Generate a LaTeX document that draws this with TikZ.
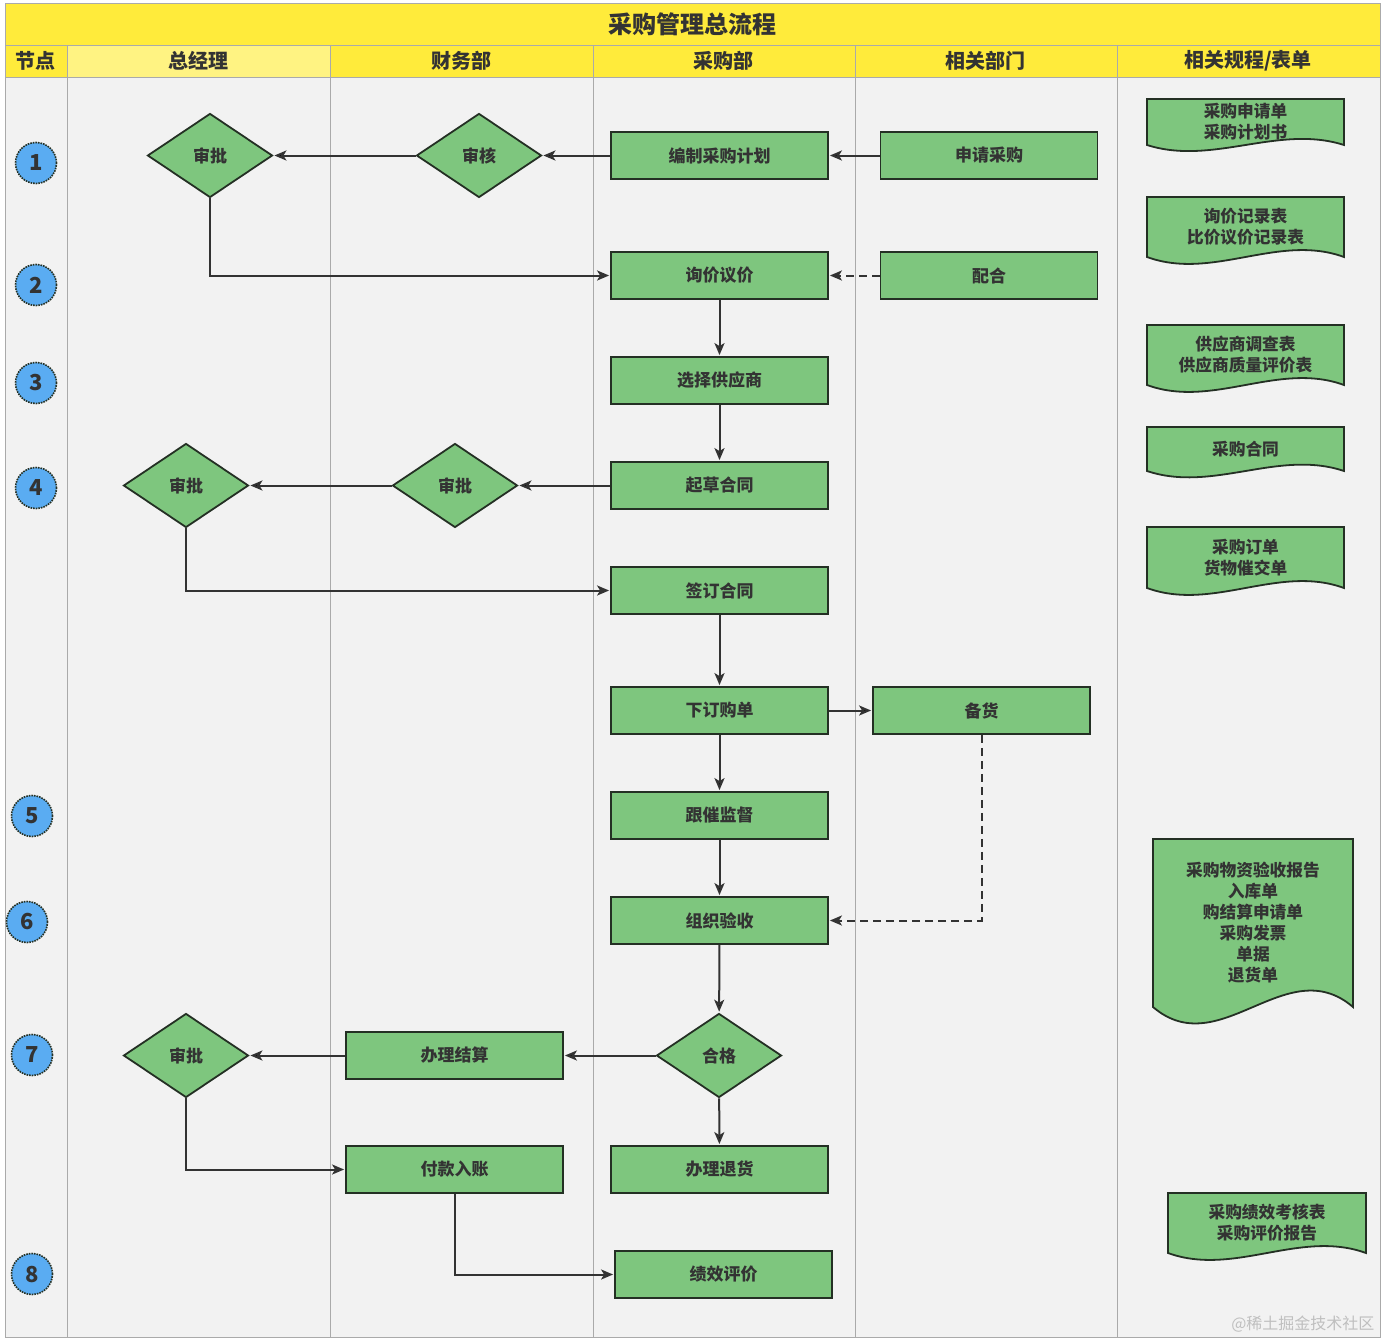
\documentclass[tikz,border=0pt]{standalone}
\usepackage{fontspec}
\setmainfont{Noto Sans CJK SC}
\usetikzlibrary{positioning,arrows,arrows.meta,shapes.geometric}

\definecolor{boxgreen}{RGB}{126,198,126}
\definecolor{boxline}{RGB}{36,48,36}
\definecolor{laneyellow}{RGB}{255,235,59}
\definecolor{lanelight}{RGB}{255,243,130}
\definecolor{lanegray}{RGB}{242,242,242}
\definecolor{laneline}{RGB}{170,170,170}
\definecolor{stepblue}{RGB}{90,172,242}
\definecolor{inkgray}{RGB}{51,51,51}

% paper-like form with a wavy lower edge
\newcommand{\formdoc}[7]{%
  \draw[formshape] (#2,#3) -- (#4,#3) -- (#4,#5)
    .. controls ({#4-(#4-#2)/3},{#5-#6}) and ({#2+(#4-#2)/3},{#5+#6}) .. (#2,#5) -- cycle;
  \node[formtext] (#1) at ({(#2+#4)/2},{(#3+#5)/2}) {#7};}

\begin{document}
\begin{tikzpicture}[x=1pt,y=-1pt,>={Stealth[length=12pt,width=10pt,inset=3pt]},
    flow/.style={->,draw=inkgray,line width=2pt,shorten >=1pt},
    proc/.style={rectangle,draw=boxline,fill=boxgreen,line width=1.8pt,minimum width=217pt,minimum height=47pt,
      text=inkgray,font=\fontsize{17}{19}\selectfont\bfseries},
    check/.style={diamond,draw=boxline,fill=boxgreen,line width=1.8pt,minimum width=125pt,minimum height=84pt,
      inner sep=0pt,text=inkgray,font=\fontsize{17}{19}\selectfont\bfseries},
    stepno/.style={circle,draw=boxline,fill=stepblue,densely dotted,line width=1.6pt,minimum size=41pt,
      inner sep=0pt,text=inkgray,font=\fontsize{22}{24}\selectfont\bfseries},
    lanehead/.style={text=inkgray,font=\fontsize{20}{22}\selectfont\bfseries},
    formshape/.style={draw=boxline,fill=boxgreen,line width=1.8pt},
    formtext/.style={align=center,text=inkgray,font=\fontsize{16.7}{21}\selectfont\bfseries}]

\useasboundingbox (0,0) rectangle (1384,1341);
\fill[white] (0,0) rectangle (1384,1341);

% swimlane frame
\fill[lanegray] (5,77) rectangle (1380,1337);
\fill[laneyellow] (5,3) rectangle (1380,77);
\fill[lanelight] (67,45) rectangle (330,77);
\draw[laneline,line width=1pt] (5,3) rectangle (1380,1337);
\draw[laneline,line width=1pt] (5,45) -- (1380,45);
\draw[laneline,line width=1pt] (5,77) -- (1380,77);
\foreach \lx in {67,330,593,855,1117}
  \draw[laneline,line width=1pt] (\lx,45) -- (\lx,1337);

\node[text=inkgray,font=\fontsize{24}{26}\selectfont\bfseries] (title) at (692,24) {采购管理总流程};
\node[lanehead] (hnode) at (36,61) {节点};
\node[lanehead] (hgm)   at (198,61) {总经理};
\node[lanehead] (hfin)  at (461,61) {财务部};
\node[lanehead] (hbuy)  at (723,61) {采购部};
\node[lanehead] (hrel)  at (985,61) {相关部门};
\node[lanehead] (hform) at (1248,61) {相关规程/表单};

% step numbers
\foreach \n/\sx/\sy in {1/36/163,2/36/285,3/36/383,4/36/488,5/32/816,6/27/922,7/32/1055,8/32/1274}
  \node[stepno] (step\n) at (\sx,\sy) {\n};

% process nodes
\node[proc]  (plan)    at (719.5,155.5) {编制采购计划};
\node[proc]  (apply)   at (989,155.5)   {申请采购};
\node[check] (audit)   at (479,155.5)   {审核};
\node[check] (okplan)  at (210,155.5)   {审批};
\node[proc]  (quote)   at (719.5,275.5) {询价议价};
\node[proc]  (assist)  at (989,275.5)   {配合};
\node[proc]  (choose)  at (719.5,380.5) {选择供应商};
\node[proc]  (draft)   at (719.5,485.5) {起草合同};
\node[check] (finok)   at (455,485.5)   {审批};
\node[check] (gmok)    at (186,485.5)   {审批};
\node[proc]  (sign)    at (719.5,590.5) {签订合同};
\node[proc]  (order)   at (719.5,710.5) {下订购单};
\node[proc]  (stock)   at (981.5,710.5) {备货};
\node[proc]  (urge)    at (719.5,815.5) {跟催监督};
\node[proc]  (accept)  at (719.5,920.5) {组织验收};
\node[check] (pass)    at (719,1055.5)  {合格};
\node[proc]  (settle)  at (454.5,1055.5) {办理结算};
\node[check] (payok)   at (186,1055.5)  {审批};
\node[proc]  (pay)     at (454.5,1169.5) {付款入账};
\node[proc]  (goback)  at (719.5,1169.5) {办理退货};
\node[proc]  (rate)    at (723.5,1274.5) {绩效评价};

\path[flow]
(apply) edge (plan)
(plan) edge (audit)
(audit) edge (okplan)
(quote) edge (choose)
(choose) edge (draft)
(draft) edge (finok)
(finok) edge (gmok)
(sign) edge (order)
(order) edge (stock)
(order) edge (urge)
(urge) edge (accept)
(accept) edge (pass)
(pass) edge (settle)
(settle) edge (payok)
(pass) edge (goback);
\draw[flow] (okplan.south) |- (quote.west);
\draw[flow,dash pattern=on 8pt off 5pt] (assist) -- (quote);
\draw[flow] (gmok.south) |- (sign.west);
\draw[flow,dash pattern=on 8pt off 5pt] (stock.south) |- (accept.east);
\draw[flow] (payok.south) |- (pay.west);
\draw[flow] (pay.south) |- (rate.west);

% forms
\formdoc{forma}{1147}{99}{1344}{145}{21}{采购申请单\\采购计划书}
\formdoc{formb}{1147}{197}{1344}{257}{24}{询价记录表\\比价议价记录表}
\formdoc{formc}{1147}{325}{1344}{385}{24}{供应商调查表\\供应商质量评价表}
\formdoc{formd}{1147}{427}{1344}{471}{22}{采购合同}
\formdoc{forme}{1147}{527}{1344}{588}{24}{采购订单\\货物催交单}
\formdoc{formf}{1153}{839}{1353}{1007}{57}{采购物资验收报告\\入库单\\购结算申请单\\采购发票\\单据\\退货单}
\formdoc{formg}{1168}{1193}{1366}{1253}{24}{采购绩效考核表\\采购评价报告}

\node[text=black!25,font=\fontsize{16}{18}\selectfont,anchor=east] (mark) at (1378,1324) {@稀土掘金技术社区};
\end{tikzpicture}
\end{document}
